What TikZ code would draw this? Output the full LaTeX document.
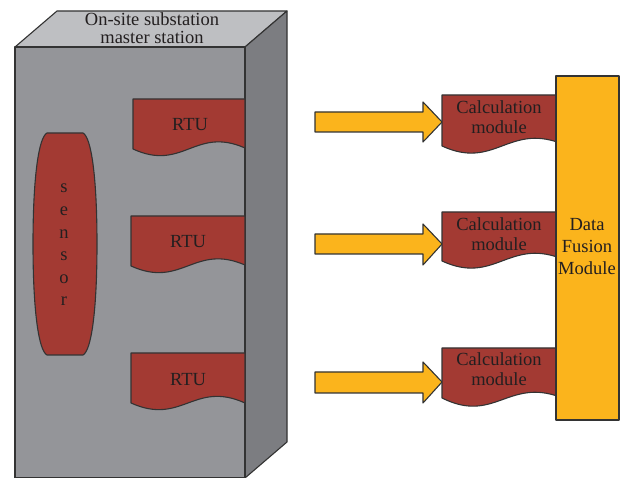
\documentclass[tikz,border=0pt]{standalone}
\usepackage{fontspec}
\setmainfont{Liberation Serif}
\begin{document}
\begin{tikzpicture}[x=1pt,y=-1pt,
  edge/.style={draw=black!80, line width=1.1pt, line join=round},
  redfill/.style={edge, fill=myred},
  orfill/.style={edge, fill=myorange},
  lbl/.style={text=mytext, font=\fontsize{18.5}{21}\selectfont, inner sep=0pt, align=center}]
\definecolor{myred}{RGB}{163,58,51}
\definecolor{myorange}{RGB}{251,180,28}
\definecolor{gfront}{RGB}{148,149,153}
\definecolor{gtop}{RGB}{190,191,194}
\definecolor{gside}{RGB}{124,125,129}
\definecolor{mytext}{RGB}{35,31,32}
\useasboundingbox (0,0) rectangle (622,478);
% box
\draw[edge, fill=gtop] (15,47) -- (57,11) -- (287,11) -- (245,47) -- cycle;
\draw[edge, fill=gside] (245,47) -- (287,11) -- (287,442) -- (245,478) -- cycle;
\draw[edge, fill=gfront] (15,47) rectangle (245,478);
\node[lbl] (title) at (152,28) {On-site substation\\[-3pt]master station};
% sensor
\draw[redfill] (47,133) -- (83,133) .. controls (91,137) and (97,175) .. (97,244)
  .. controls (97,313) and (91,351) .. (83,355) -- (47,355)
  .. controls (39,351) and (33,313) .. (33,244) .. controls (33,175) and (39,137) .. (47,133) -- cycle;
\node[lbl, align=center, font=\fontsize{18.5}{22.6}\selectfont] (sensor) at (64,245) {s\\e\\n\\s\\o\\r};
% RTUs
\draw[redfill] (133,99) -- (245,99) -- (245,148) .. controls (195,126) and (183,172) .. (133,149) -- cycle;
\node[lbl] (rtu1) at (190,125) {RTU};
\draw[redfill] (131,216) -- (245,216) -- (245,265) .. controls (194,243) and (182,289) .. (131,266) -- cycle;
\node[lbl] (rtu2) at (188,242) {RTU};
\draw[redfill] (131,353) -- (245,353) -- (245,403) .. controls (194,380) and (182,426) .. (131,403) -- cycle;
\node[lbl] (rtu3) at (188,380) {RTU};
% arrows
\draw[orfill] (315,112) -- (423,112) -- (423,102) -- (442,122) -- (423,142) -- (423,132) -- (315,132) -- cycle;
\draw[orfill] (315,234) -- (423,234) -- (423,224) -- (442,244) -- (423,265) -- (423,254) -- (315,254) -- cycle;
\draw[orfill] (315,372) -- (423,372) -- (423,362) -- (442,382) -- (423,403) -- (423,393) -- (315,393) -- cycle;
% calculation modules
\draw[redfill] (442,95) -- (560,95) -- (560,143) .. controls (508,124) and (494,170) .. (442,146) -- cycle;
\node[lbl] (calc1) at (499,117) {Calculation\\[-1pt]module};
\draw[redfill] (442,212) -- (560,212) -- (560,258) .. controls (508,239) and (494,285) .. (442,261) -- cycle;
\node[lbl] (calc2) at (499,234) {Calculation\\[-1pt]module};
\draw[redfill] (442,348) -- (560,348) -- (560,397) .. controls (508,378) and (494,424) .. (442,398) -- cycle;
\node[lbl] (calc3) at (499,369) {Calculation\\[-1pt]module};
% data fusion module
\draw[orfill] (556,76) rectangle (619,420);
\node[lbl, font=\fontsize{18.5}{22}\selectfont] (fusion) at (587,247) {Data\\Fusion\\Module};
\end{tikzpicture}
\end{document}
